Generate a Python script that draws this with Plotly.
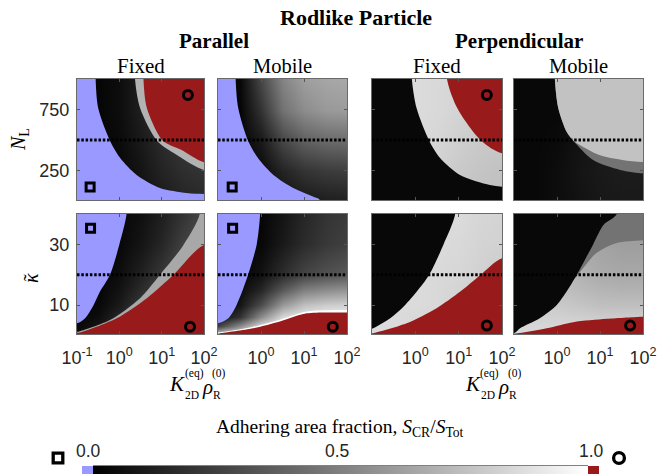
import plotly.graph_objects as go

W, H = 668, 474

# ------------------------------------------------------------------ data
LOGK_RANGE = [-1, 2]
NL_RANGE = [10, 1000]
KAPPA_RANGE = [0.5, 40]
LOGK_TICKS = [-1, 0, 1, 2]
LOGK_TEXT_FIRST = ["10<sup>-1</sup>", "10<sup>0</sup>", "10<sup>1</sup>", "10<sup>2</sup>"]
LOGK_TEXT_OTHER = ["", "10<sup>0</sup>", "10<sup>1</sup>", "10<sup>2</sup>"]
NL_TICKS = [250, 750]
KAPPA_TICKS = [10, 30]
NL_DOTTED = 500
KAPPA_DOTTED = 20

GRID_LOGK = [-1, -0.5, 0, 0.5, 1, 1.5, 2]
GRID_NL = [10, 250, 500, 750, 1000]
GRID_KAPPA = [0.5, 3, 6, 10, 15, 20, 30, 40]

# --- Parallel / Fixed, N_L
P1_GRAY = [
    [0.02, 0.02, 0.03, 0.06, 0.10, 0.14, 0.16],
    [0.02, 0.02, 0.03, 0.08, 0.14, 0.18, 0.20],
    [0.02, 0.02, 0.04, 0.10, 0.17, 0.22, 0.25],
    [0.02, 0.02, 0.05, 0.12, 0.20, 0.25, 0.27],
    [0.02, 0.02, 0.05, 0.12, 0.20, 0.25, 0.27],
]
P1_BLUE_X = [-0.56, -0.50, -0.22, 0.02, 0.41, 0.96, 1.59, 2.0]
P1_BLUE_Y = [1000, 763, 495, 354, 215, 108, 67, 59]
P1_BAND_X = [0.37, 0.49, 0.89, 1.36, 2.0]
P1_BAND_Y = [1000, 763, 495, 378, 256]
P1_BAND_LEVEL = 0.70
P1_RED_X = [0.57, 0.65, 1.03, 1.47, 2.0]
P1_RED_Y = [1000, 763, 495, 419, 319]

# --- Parallel / Mobile, N_L
P2_GRAY = [
    [0.02, 0.02, 0.03, 0.06, 0.10, 0.12, 0.13],
    [0.02, 0.02, 0.04, 0.14, 0.20, 0.23, 0.24],
    [0.02, 0.02, 0.10, 0.28, 0.38, 0.42, 0.43],
    [0.02, 0.02, 0.20, 0.45, 0.55, 0.60, 0.61],
    [0.02, 0.03, 0.28, 0.52, 0.62, 0.65, 0.66],
]
P2_BLUE_X = [-0.59, -0.53, -0.30, -0.07, 0.29, 0.75, 1.22, 1.37]
P2_BLUE_Y = [1000, 763, 495, 354, 215, 108, 37, 10]

# --- Perpendicular / Fixed, N_L
P3_GRAY = [
    [0.80, 0.80, 0.80, 0.79, 0.78, 0.76, 0.75],
    [0.84, 0.84, 0.84, 0.82, 0.79, 0.77, 0.76],
    [0.85, 0.85, 0.85, 0.84, 0.81, 0.79, 0.78],
    [0.86, 0.86, 0.86, 0.85, 0.83, 0.81, 0.80],
    [0.86, 0.86, 0.86, 0.85, 0.84, 0.82, 0.81],
]
P3_BLACK_X = [-0.08, 0.03, 0.32, 0.57, 1.03, 1.72, 2.0]
P3_BLACK_Y = [1000, 760, 495, 354, 215, 133, 119]
P3_BLACK_LEVEL = 0.03
P3_RED_X = [0.73, 0.97, 1.52, 2.0]
P3_RED_Y = [1000, 760, 495, 392]

# --- Perpendicular / Mobile, N_L
P4_GRAY = [
    [0.03, 0.03, 0.05, 0.07, 0.09, 0.10, 0.10],
    [0.03, 0.03, 0.05, 0.08, 0.10, 0.11, 0.11],
    [0.03, 0.03, 0.04, 0.07, 0.09, 0.10, 0.10],
    [0.03, 0.03, 0.03, 0.05, 0.06, 0.07, 0.07],
    [0.03, 0.03, 0.03, 0.04, 0.05, 0.06, 0.06],
]
P4_MID_X = [-0.05, 0.03, 0.22, 0.38, 0.84, 1.47, 1.97, 2.0]
P4_MID_Y = [1000, 760, 570, 495, 337, 256, 228, 228]
P4_MID_LEVEL = 0.45
P4_LIGHT_X = [-0.05, 0.03, 0.22, 0.38, 0.53, 0.98, 1.52, 2.0]
P4_LIGHT_Y = [1000, 760, 570, 495, 460, 378, 337, 320]
P4_LIGHT_LEVEL = 0.76

# --- Parallel / Fixed, kappa
P5_GRAY = [
    [0.05, 0.15, 0.25, 0.30, 0.30, 0.30, 0.30],
    [0.03, 0.08, 0.20, 0.30, 0.30, 0.30, 0.30],
    [0.02, 0.05, 0.15, 0.27, 0.30, 0.30, 0.30],
    [0.02, 0.03, 0.10, 0.22, 0.30, 0.30, 0.30],
    [0.02, 0.02, 0.07, 0.17, 0.27, 0.30, 0.30],
    [0.02, 0.02, 0.05, 0.13, 0.22, 0.30, 0.30],
    [0.02, 0.02, 0.03, 0.08, 0.15, 0.25, 0.30],
    [0.02, 0.02, 0.03, 0.06, 0.12, 0.20, 0.28],
]
P5_BLUE_X = [0.17, 0.0, -0.22, -0.46, -0.61, -0.81, -1.0]
P5_BLUE_Y = [40, 30, 20, 14.4, 10, 5.7, 4.0]
P5_BAND_X = [-1.0, -0.93, -0.22, 0.49, 0.96, 1.5, 1.9]
P5_BAND_Y = [1.2, 1.4, 5.1, 12.3, 20, 29.5, 40]
P5_BAND_LEVEL = 0.66
P5_RED_X = [-1.0, -0.93, -0.06, 0.65, 1.28, 2.0]
P5_RED_Y = [0.9, 1.0, 5.7, 12.3, 20, 29.8]

# --- Parallel / Mobile, kappa
P6_GRAY = [
    [0.80, 0.90, 1.00, 1.00, 1.00, 1.00, 1.00],
    [0.25, 0.55, 0.85, 0.97, 1.00, 1.00, 1.00],
    [0.05, 0.20, 0.55, 0.85, 0.92, 0.95, 0.95],
    [0.03, 0.08, 0.30, 0.60, 0.75, 0.80, 0.82],
    [0.02, 0.04, 0.15, 0.35, 0.50, 0.55, 0.58],
    [0.02, 0.02, 0.07, 0.18, 0.27, 0.32, 0.35],
    [0.02, 0.02, 0.03, 0.10, 0.17, 0.22, 0.25],
    [0.02, 0.02, 0.02, 0.08, 0.15, 0.20, 0.23],
]
P6_BLUE_X = [-0.02, -0.10, -0.30, -0.57, -0.76, -1.0]
P6_BLUE_Y = [40, 30, 20, 10, 5.7, 4.0]
P6_WHITE_X = [-1.0, -0.18, 0.44, 1.06, 1.5, 2.0]
P6_WHITE_Y = [1.0, 2.9, 5.2, 7.9, 8.3, 8.4]
P6_RED_X = [-1.0, -0.95, -0.18, 0.44, 1.06, 1.84, 2.0]
P6_RED_Y = [0.6, 0.75, 2.4, 4.6, 7.3, 7.6, 7.6]

# --- Perpendicular / Fixed, kappa
P7_GRAY = [
    [0.86, 0.86, 0.85, 0.84, 0.82, 0.80, 0.78],
    [0.86, 0.86, 0.85, 0.84, 0.82, 0.80, 0.78],
    [0.86, 0.86, 0.85, 0.84, 0.82, 0.80, 0.78],
    [0.86, 0.86, 0.86, 0.85, 0.82, 0.80, 0.78],
    [0.86, 0.86, 0.86, 0.85, 0.83, 0.81, 0.79],
    [0.86, 0.86, 0.86, 0.85, 0.84, 0.82, 0.80],
    [0.86, 0.86, 0.86, 0.86, 0.85, 0.83, 0.82],
    [0.86, 0.86, 0.86, 0.86, 0.86, 0.84, 0.83],
]
P7_BLACK_X = [0.92, 0.65, 0.32, 0.03, -0.24, -0.58, -0.97, -1.0]
P7_BLACK_Y = [40, 30, 20, 14.4, 10, 5.7, 2.4, 2.3]
P7_BLACK_LEVEL = 0.03
P7_RED_X = [-1.0, -0.97, -0.20, 0.49, 1.03, 1.51, 2.0]
P7_RED_Y = [0.7, 0.75, 4.0, 9.0, 14.4, 20, 25.4]

# --- Perpendicular / Mobile, kappa
P8_GRAY = [
    [0.85, 0.85, 0.85, 0.85, 0.85, 0.85, 0.85],
    [0.84, 0.84, 0.84, 0.84, 0.83, 0.83, 0.83],
    [0.82, 0.82, 0.82, 0.81, 0.80, 0.80, 0.80],
    [0.80, 0.80, 0.79, 0.77, 0.75, 0.75, 0.75],
    [0.78, 0.78, 0.76, 0.73, 0.71, 0.70, 0.70],
    [0.76, 0.76, 0.74, 0.70, 0.67, 0.66, 0.66],
    [0.72, 0.72, 0.70, 0.66, 0.64, 0.62, 0.62],
    [0.70, 0.70, 0.68, 0.64, 0.62, 0.60, 0.60],
]
P8_MID_X = [0.3, 0.6, 0.91, 1.37, 2.0]
P8_MID_Y = [18, 22.1, 27.1, 30.4, 31.4]
P8_MID_LEVEL = 0.45
P8_BLACK_X = [1.39, 1.08, 0.84, 0.46, 0.22, -0.01, -0.40, -0.86, -1.0]
P8_BLACK_Y = [40, 36.4, 30, 20, 14.4, 10, 5.7, 2.4, 0.75]
P8_BLACK_LEVEL = 0.03
P8_RED_X = [-1.0, -0.24, 0.38, 1.16, 1.97, 2.0]
P8_RED_Y = [0.6, 2.4, 4.4, 5.5, 6.2, 6.2]

# markers: panel, symbol, log10 K, y
MARK_PANEL = [1, 1, 2, 3, 5, 5, 6, 6, 7, 8]
MARK_SYMBOL = ["square-open", "circle-open", "square-open", "circle-open",
               "square-open", "circle-open", "square-open", "circle-open",
               "circle-open", "circle-open"]
MARK_X = [-0.69, 1.62, -0.67, 1.65, -0.68, 1.67, -0.66, 1.67, 1.65, 1.70]
MARK_Y = [116, 869, 116, 869, 35.3, 2.9, 35.3, 2.9, 3.3, 3.3]

CBAR_TICKS = [0.0, 0.5, 1.0]
CBAR_LABELS = ["0.0", "0.5", "1.0"]

# ------------------------------------------------------------------ style
BLUE = "#9999ff"
RED = "#991a1a"
EXT = 0.0222
A = EXT / (1 + 2 * EXT)
COLORSCALE = [[0, BLUE], [A, BLUE], [A, "black"], [1 - A, "white"],
              [1 - A, RED], [1, RED]]
SERIF = "Liberation Serif"
SANS = "Liberation Sans"
TICKC = "#262626"


def gray(v):
    g = int(round(v * 255))
    return f"rgb({g},{g},{g})"


def pxx(x):
    return x / W


def pyy(y):
    return 1 - y / H


COLS = [(77, 204), (218, 347), (372, 502), (514, 643)]
ROWS = [(79, 200), (214, 334)]
CBAR_PX = (93, 588)          # grey part of the colour bar, in pixels
CBAR_LABEL_PX = [88, 337, 591]

fig = go.Figure()


def axname(i):
    return ("x", "y") if i == 1 else (f"x{i}", f"y{i}")


def poly(xs, ys, corners, yr):
    xr = LOGK_RANGE
    ex = 0.3 * (xr[1] - xr[0])
    ey = 0.3 * (yr[1] - yr[0])
    xlo, xhi, ylo, yhi = xr[0] - ex, xr[1] + ex, yr[0] - ey, yr[1] + ey

    def ext(x, y):
        if x <= xr[0]:
            return (xlo, y)
        if x >= xr[1]:
            return (xhi, y)
        if y >= yr[1]:
            return (x, yhi)
        if y <= yr[0]:
            return (x, ylo)
        return None

    pts = []
    e0 = ext(xs[0], ys[0])
    if e0:
        pts.append(e0)
    pts += list(zip(xs, ys))
    e1 = ext(xs[-1], ys[-1])
    if e1:
        pts.append(e1)
    cm = {"TL": (xlo, yhi), "TR": (xhi, yhi), "BL": (xlo, ylo), "BR": (xhi, ylo)}
    pts += [cm[c] for c in corners]
    pts.append(pts[0])
    return [p[0] for p in pts], [p[1] for p in pts]


def add_fill(i, xs, ys, corners, color):
    yr = NL_RANGE if i <= 4 else KAPPA_RANGE
    X, Y = poly(xs, ys, corners, yr)
    xa, ya = axname(i)
    fig.add_trace(go.Scatter(x=X, y=Y, mode="lines",
                             line=dict(width=0, shape="spline", smoothing=0.8),
                             fill="toself", fillcolor=color, hoverinfo="skip",
                             showlegend=False, xaxis=xa, yaxis=ya))


def add_heat(i, z, show=False):
    xa, ya = axname(i)
    ygrid = GRID_NL if i <= 4 else GRID_KAPPA
    if show:
        kw = dict(showscale=True, colorbar=dict(
            orientation="h", x=pxx(340.5), xanchor="center",
            y=pyy(466), yanchor="top", len=517 / W, lenmode="fraction",
            thickness=11, thicknessmode="pixels", xpad=0, ypad=0,
            outlinewidth=0, showticklabels=False, ticks=""))
    else:
        kw = dict(showscale=False)
    fig.add_trace(go.Heatmap(x=GRID_LOGK, y=ygrid, z=z, zsmooth="best",
                             colorscale=COLORSCALE, zmin=-EXT, zmax=1 + EXT,
                             hoverinfo="skip", xaxis=xa, yaxis=ya, **kw))


# panel 1
add_heat(1, P1_GRAY, show=True)
add_fill(1, P1_BAND_X, P1_BAND_Y, ["TR"], gray(P1_BAND_LEVEL))
add_fill(1, P1_RED_X, P1_RED_Y, ["TR"], RED)
add_fill(1, P1_BLUE_X, P1_BLUE_Y, ["BR", "BL", "TL"], BLUE)
# panel 2
add_heat(2, P2_GRAY)
add_fill(2, P2_BLUE_X, P2_BLUE_Y, ["BL", "TL"], BLUE)
# panel 3
add_heat(3, P3_GRAY)
add_fill(3, P3_BLACK_X, P3_BLACK_Y, ["BR", "BL", "TL"], gray(P3_BLACK_LEVEL))
add_fill(3, P3_RED_X, P3_RED_Y, ["TR"], RED)
# panel 4
add_heat(4, P4_GRAY)
add_fill(4, P4_MID_X, P4_MID_Y, ["TR"], gray(P4_MID_LEVEL))
add_fill(4, P4_LIGHT_X, P4_LIGHT_Y, ["TR"], gray(P4_LIGHT_LEVEL))
# panel 5
add_heat(5, P5_GRAY)
add_fill(5, P5_BAND_X, P5_BAND_Y, ["TR", "BR", "BL"], gray(P5_BAND_LEVEL))
add_fill(5, P5_RED_X, P5_RED_Y, ["BR", "BL"], RED)
add_fill(5, P5_BLUE_X, P5_BLUE_Y, ["TL"], BLUE)
# panel 6
add_heat(6, P6_GRAY)
add_fill(6, P6_WHITE_X, P6_WHITE_Y, ["BR", "BL"], "white")
add_fill(6, P6_RED_X, P6_RED_Y, ["BR", "BL"], RED)
add_fill(6, P6_BLUE_X, P6_BLUE_Y, ["TL"], BLUE)
# panel 7
add_heat(7, P7_GRAY)
add_fill(7, P7_BLACK_X, P7_BLACK_Y, ["TL"], gray(P7_BLACK_LEVEL))
add_fill(7, P7_RED_X, P7_RED_Y, ["BR", "BL"], RED)
# panel 8
add_heat(8, P8_GRAY)
add_fill(8, P8_MID_X, P8_MID_Y, ["TR", "TL"], gray(P8_MID_LEVEL))
add_fill(8, P8_BLACK_X, P8_BLACK_Y, ["TL"], gray(P8_BLACK_LEVEL))
add_fill(8, P8_RED_X, P8_RED_Y, ["BR", "BL"], RED)

# dotted reference lines
for i in range(1, 9):
    xa, ya = axname(i)
    yv = NL_DOTTED if i <= 4 else KAPPA_DOTTED
    fig.add_trace(go.Scatter(x=LOGK_RANGE, y=[yv, yv], mode="lines",
                             line=dict(color="black", width=3, dash="2.5px,1.8px"),
                             hoverinfo="skip", showlegend=False, xaxis=xa, yaxis=ya))

# markers
for p, s, mx, my in zip(MARK_PANEL, MARK_SYMBOL, MARK_X, MARK_Y):
    xa, ya = axname(p)
    fig.add_trace(go.Scatter(x=[mx], y=[my], mode="markers",
                             marker=dict(symbol=s, size=8 if s.startswith("square") else 9,
                                         color="black",
                                         line=dict(width=3, color="black")),
                             hoverinfo="skip", showlegend=False, xaxis=xa, yaxis=ya))

# axes
layout = {}
for r, (ytop, ybot) in enumerate(ROWS):
    for c, (x0, x1) in enumerate(COLS):
        i = r * 4 + c + 1
        sfx = "" if i == 1 else str(i)
        layout["xaxis" + sfx] = dict(
            domain=[pxx(x0), pxx(x1)], range=LOGK_RANGE, anchor="y" + sfx,
            tickvals=LOGK_TICKS,
            ticktext=LOGK_TEXT_FIRST if c == 0 else LOGK_TEXT_OTHER,
            showticklabels=(r == 1), ticks="inside", ticklen=3, tickwidth=1,
            tickcolor="#555", showline=True, linecolor="#6a6a6a", linewidth=1,
            mirror="ticks", showgrid=False, zeroline=False,
            tickfont=dict(family=SANS, size=18, color=TICKC),
            ticklabelstandoff=7)
        layout["yaxis" + sfx] = dict(
            domain=[pyy(ybot), pyy(ytop)], anchor="x" + sfx,
            range=NL_RANGE if r == 0 else KAPPA_RANGE,
            tickvals=NL_TICKS if r == 0 else KAPPA_TICKS,
            showticklabels=(c == 0), ticks="inside", ticklen=3, tickwidth=1,
            tickcolor="#555", showline=True, linecolor="#6a6a6a", linewidth=1,
            mirror="ticks", showgrid=False, zeroline=False,
            tickfont=dict(family=SANS, size=18, color=TICKC),
            ticklabelstandoff=3)

ann = []


def text(x, y, s, size, family=SERIF, angle=0, color="black"):
    ann.append(dict(x=pxx(x), y=pyy(y), xref="paper", yref="paper", text=s,
                    showarrow=False, xanchor="center", yanchor="middle",
                    textangle=angle, font=dict(family=family, size=size, color=color)))


text(356, 17, "<b>Rodlike Particle</b>", 22)
text(214, 41, "<b>Parallel</b>", 21)
text(519, 41, "<b>Perpendicular</b>", 21)
text(140.5, 66, "Fixed", 21)
text(282.5, 66, "Mobile", 20.5)
text(437, 66, "Fixed", 21)
text(578.5, 66, "Mobile", 20.5)

text(20, 140, "<i>N</i><sub>L</sub>", 20, angle=-90)
text(31, 278, "<i>κ</i>", 20, angle=-90)
text(31, 278, "˜", 20, angle=-90)

for dx in (0, 296):
    text(177 + dx, 384, "<i>K</i>", 21)
    text(194 + dx, 373, "(eq)", 11.5)
    text(192 + dx, 395, "2D", 11.5)
    text(207.5 + dx, 387, "<i>ρ</i>", 21)
    text(218.5 + dx, 373, "(0)", 11.5)
    text(216.5 + dx, 395, "R", 11.5)

text(340, 428, "Adhering area fraction, <i>S</i><sub>CR</sub>/<i>S</i><sub>Tot</sub>", 19.5)
for xl, lab in zip(CBAR_LABEL_PX, CBAR_LABELS):
    text(xl, 451, lab, 17.5, family=SANS, color=TICKC)

shapes = [
    dict(type="line", xref="paper", yref="paper", x0=pxx(CBAR_PX[0]), x1=pxx(CBAR_PX[1]),
         y0=pyy(466), y1=pyy(466), line=dict(color="black", width=1)),
    dict(type="line", xref="paper", yref="paper", x0=pxx(340.5), x1=pxx(340.5),
         y0=pyy(466), y1=pyy(471), line=dict(color="#333", width=1)),
    dict(type="rect", xref="paper", yref="paper", x0=pxx(53.2), x1=pxx(62.8),
         y0=pyy(462.8), y1=pyy(453.2), line=dict(color="black", width=3.3)),
    dict(type="circle", xref="paper", yref="paper", x0=pxx(613.6), x1=pxx(624.4),
         y0=pyy(463.4), y1=pyy(452.6), line=dict(color="black", width=3.3)),
]

fig.update_layout(width=W, height=H, margin=dict(l=0, r=0, t=0, b=0, autoexpand=False),
                  paper_bgcolor="white", plot_bgcolor="white", showlegend=False,
                  annotations=ann, shapes=shapes, **layout)

fig.write_html("out.html", config={"displayModeBar": False},
               post_script="document.body.style.margin='0px';"
                           "document.body.style.overflow='hidden';")
